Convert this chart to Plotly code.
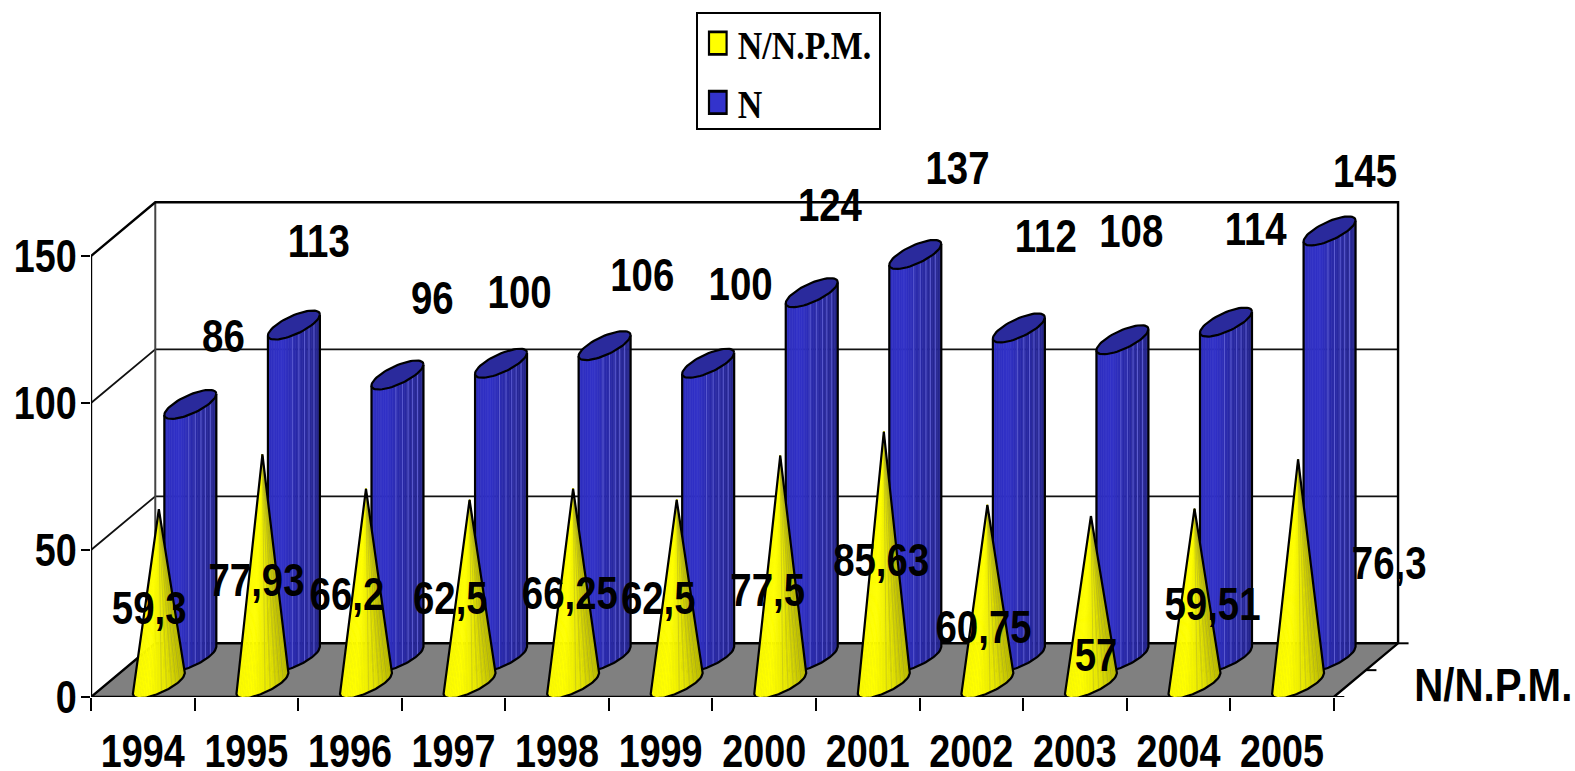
import numpy as np
import plotly.graph_objects as go

# --- data ---
years = ["1994", "1995", "1996", "1997", "1998", "1999", "2000", "2001", "2002", "2003", "2004", "2005"]
npm_values = [59.3, 77.93, 66.2, 62.5, 66.25, 62.5, 77.5, 85.63, 60.75, 57, 59.51, 76.3]
n_values = [86, 113, 96, 100, 106, 100, 124, 137, 112, 108, 114, 145]
y_ticks = [0, 50, 100, 150]
series_names = ["N/N.P.M.", "N"]
depth_label = "N/N.P.M."

# label offsets from the tip of each mark, in screen pixels (right, down)
npm_label_dx = [-9.7, -5.9, -19, -19.2, -3.2, -18.4, -12.6, -2.6, -3.8, 5.1, 18, 91.2]
npm_label_dy = [99.4, 126.1, 105.7, 98.8, 104.9, 98.8, 134.9, 128.7, 122.8, 139, 96.1, 104.2]
n_label_dx = [33.1, 24.9, 34.8, 18.6, 37.6, 32.4, 18.2, 42.2, 27, 8.8, 29.7, 35.5]
n_label_dy = [-68, -83.1, -76.7, -71, -70.5, -79, -86.8, -85.7, -91, -107.8, -93.1, -59.2]
LABEL_SHIFT = 4

# --- layout of the pseudo-3D box ---
W, H = 1575, 771
LEFT, BOTTOM_Y = 90.5, 697.0
PX_PER_CAT, PX_PER_VAL = 103.6, 2.94
DX, DY = 64.3 / PX_PER_CAT, 53.7 / PX_PER_VAL
A, S, K = 26 / PX_PER_CAT, 10.5 / PX_PER_VAL, 10 / PX_PER_VAL
CYL_DEPTH, CONE_DEPTH = 0.74, 0.25
N_STRIPS = 30
FONT = "Liberation Sans, Arial"
SERIF = "Liberation Serif, Times New Roman"
n_cats = len(years)


def ramp(stops, f):
    fs = [s[0] for s in stops]
    c = [np.interp(f, fs, [s[1][k] for s in stops]) for k in range(3)]
    return "rgb(%d,%d,%d)" % tuple(int(round(v)) for v in c)


BLUE_STOPS = [(0, (46, 46, 190)), (0.3, (50, 50, 200)), (0.55, (42, 42, 170)), (1, (38, 38, 140))]
YELLOW_STOPS = [(0, (250, 250, 0)), (0.3, (255, 255, 0)), (0.65, (232, 232, 0)), (1, (185, 185, 0))]


def low(u):
    return -K * np.sqrt(np.clip(1 - u * u, 0, 1)) + S * u


def poly_trace(xs, ys, color):
    return go.Scatter(x=xs, y=ys, mode="lines", fill="toself", fillcolor=color,
                      line=dict(color=color, width=0.7), hoverinfo="skip",
                      showlegend=False, cliponaxis=False)


def line_trace(xs, ys, color="black", width=2.2):
    return go.Scatter(x=xs, y=ys, mode="lines", line=dict(color=color, width=width),
                      hoverinfo="skip", showlegend=False, cliponaxis=False)


fig = go.Figure()

# floor
fig.add_trace(poly_trace([0, n_cats, n_cats + DX, DX, 0], [0, 0, DY, DY, 0], "#808080"))

# walls and grid
gx, gy = [], []
for v in y_ticks[1:3]:
    gx += [0, DX, n_cats + DX, None]
    gy += [v, v + DY, v + DY, None]
fig.add_trace(line_trace(gx, gy, "#111111", 1.8))
fig.add_trace(line_trace([DX, DX, None], [DY, y_ticks[-1] + DY, None], "#444444", 2))
fx = [0, DX, n_cats + DX, n_cats + DX, n_cats, 0, 0, None, 0, DX, n_cats + DX]
fy = [y_ticks[-1], y_ticks[-1] + DY, y_ticks[-1] + DY, DY, 0, 0, y_ticks[-1], None, 0, DY, DY]
fig.add_trace(line_trace(fx, fy, "black", 2.4))
# depth ticks at the right of the floor
tx, ty = [], []
for f in (0, 0.5, 1):
    tx += [n_cats + f * DX, n_cats + f * DX + 10.5 / PX_PER_CAT, None]
    ty += [f * DY, f * DY, None]
fig.add_trace(line_trace(tx, ty, "black", 2))

edges = np.linspace(-1, 1, N_STRIPS + 1)
arc_u = np.linspace(-1, 1, 41)
t_loop = np.linspace(0, 2 * np.pi, 61)

# cylinders (N)
for s in range(N_STRIPS):
    u0, u1 = edges[s], edges[s + 1]
    xs, ys = [], []
    for i, v in enumerate(n_values):
        cx = i + 0.5 + CYL_DEPTH * DX
        b = CYL_DEPTH * DY
        xs += [cx + A * u0, cx + A * u1, cx + A * u1, cx + A * u0, cx + A * u0, None]
        ys += [b + v + low(u0), b + v + low(u1), b + low(u1), b + low(u0), b + v + low(u0), None]
    fig.add_trace(poly_trace(xs, ys, ramp(BLUE_STOPS, (s + 0.5) / N_STRIPS)))

sx, sy = [], []
for i, v in enumerate(n_values):
    cx = i + 0.5 + CYL_DEPTH * DX
    b = CYL_DEPTH * DY
    for u in (-0.06, 0.19, 0.41, 0.58, 0.77):
        sx += [cx + A * u, cx + A * u, None]
        sy += [b + v + low(u), b + low(u), None]
fig.add_trace(line_trace(sx, sy, "#5c5cd0", 1))

ox, oy, ex, ey = [], [], [], []
for i, v in enumerate(n_values):
    cx = i + 0.5 + CYL_DEPTH * DX
    b = CYL_DEPTH * DY
    ox += [cx - A] + list(cx + A * arc_u) + [cx + A, None]
    oy += [b + v + low(-1.0)] + list(b + low(arc_u)) + [b + v + low(1.0), None]
    ex += list(cx + A * np.cos(t_loop)) + [None]
    ey += list(b + v + S * np.cos(t_loop) + K * np.sin(t_loop)) + [None]
fig.add_trace(line_trace(ox, oy))
fig.add_trace(go.Scatter(x=ex, y=ey, mode="lines", fill="toself", fillcolor="#2a2a9c",
                         line=dict(color="black", width=2.2), hoverinfo="skip",
                         showlegend=False, cliponaxis=False))

# cones (N/N.P.M.)
for s in range(N_STRIPS):
    u0, u1 = edges[s], edges[s + 1]
    xs, ys = [], []
    for i, v in enumerate(npm_values):
        cx = i + 0.5 + CONE_DEPTH * DX
        b = CONE_DEPTH * DY
        xs += [cx, cx + A * u1, cx + A * u0, cx, None]
        ys += [b + v, b + low(u1), b + low(u0), b + v, None]
    fig.add_trace(poly_trace(xs, ys, ramp(YELLOW_STOPS, (s + 0.5) / N_STRIPS)))

sx, sy = [], []
for i, v in enumerate(npm_values):
    cx = i + 0.5 + CONE_DEPTH * DX
    b = CONE_DEPTH * DY
    for u in (0.1, 0.3, 0.5, 0.65, 0.8):
        sx += [cx, cx + A * u, None]
        sy += [b + v, b + low(u), None]
fig.add_trace(line_trace(sx, sy, "rgba(150,150,60,0.45)", 0.8))

ox, oy = [], []
for i, v in enumerate(npm_values):
    cx = i + 0.5 + CONE_DEPTH * DX
    b = CONE_DEPTH * DY
    ox += [cx] + list(cx + A * arc_u) + [cx, None]
    oy += [b + v] + list(b + low(arc_u)) + [b + v, None]
fig.add_trace(line_trace(ox, oy))


def label_trace(values, depth, dx, dy):
    return go.Scatter(
        x=[i + 0.5 + depth * DX + dx[i] / PX_PER_CAT for i in range(n_cats)],
        y=[depth * DY + v - (dy[i] + LABEL_SHIFT) / PX_PER_VAL for i, v in enumerate(values)],
        mode="text", text=[str(v).replace(".", ",") for v in values],
        textposition="middle center",
        textfont=dict(family=FONT, size=46, color="black", weight=700),
        hoverinfo="skip", showlegend=False, cliponaxis=False)


fig.add_trace(label_trace(n_values, CYL_DEPTH, n_label_dx, n_label_dy))
fig.add_trace(label_trace(npm_values, CONE_DEPTH, npm_label_dx, npm_label_dy))

# legend entries
for k, (name, col) in enumerate(zip(series_names, ["#ffff00", "#3333cc"])):
    fig.add_trace(go.Scatter(x=[None], y=[None], mode="markers", name=name, legendgroup=name,
                             marker=dict(symbol="square", size=16, color=col,
                                         line=dict(color="black", width=2))))

fig.add_annotation(x=n_cats + DX + 95.5 / PX_PER_CAT, y=DY * 0.22, xref="x", yref="y", text=depth_label,
                   showarrow=False, xanchor="center", yanchor="middle",
                   font=dict(family=FONT, size=46, color="black", weight=700))

fig.update_layout(
    width=W, height=H, paper_bgcolor="white", plot_bgcolor="white",
    margin=dict(l=LEFT, r=0, t=0, b=H - BOTTOM_Y, pad=0, autoexpand=False),
    legend=dict(x=(695.5 - LEFT) / (W - LEFT), y=1 - 12 / BOTTOM_Y, xanchor="left", yanchor="top",
                bgcolor="white", bordercolor="black", borderwidth=2,
                font=dict(family=SERIF, size=41, color="black", weight=700),
                traceorder="grouped", tracegroupgap=3, itemclick=False, itemdoubleclick=False,
                entrywidth=113, entrywidthmode="pixels"),
    xaxis=dict(range=[0, (W - LEFT) / PX_PER_CAT], showgrid=False, zeroline=False, showline=False,
               tickmode="array", tickvals=[i + 0.5 for i in range(n_cats)], ticktext=years,
               tickangle=0,
               ticks="outside", ticklen=14, tickcolor="rgba(0,0,0,0)",
               tickfont=dict(family=FONT, size=46, color="black", weight=700),
               minor=dict(tickmode="array", tickvals=list(range(n_cats + 1)), ticks="outside",
                          ticklen=13, tickwidth=2, tickcolor="black")),
    yaxis=dict(range=[0, BOTTOM_Y / PX_PER_VAL], showgrid=False, zeroline=False, showline=False,
               tickmode="array", tickvals=y_ticks, ticks="outside", ticklen=9, tickwidth=2,
               ticklabelstandoff=-5, tickangle=0,
               tickcolor="black", tickfont=dict(family=FONT, size=46, color="black", weight=700)),
)

# The reference's lettering is horizontally condensed; no condensed face is installed,
# so the real text elements are squeezed once Plotly has drawn them.
POST = """
document.body.style.margin='0';document.body.style.overflow='hidden';
function squeeze(){
  var rules=[['.xtick text, .ytick text',0.82],['.textpoint text',0.835],['.annotation-text',0.875],['.legendtext',0.827]];
  rules.forEach(function(r){
    document.querySelectorAll(r[0]).forEach(function(el){
      if(el.dataset.sq)return;
      var w=el.getComputedTextLength(); if(!w)return;
      el.dataset.sq='1';
      el.setAttribute('lengthAdjust','spacingAndGlyphs');
      el.setAttribute('textLength',w*r[1]);
    });
  });
  document.querySelectorAll('.legendpoints path').forEach(function(el){
    if(el.dataset.sq)return; el.dataset.sq='1';
    el.setAttribute('transform',(el.getAttribute('transform')||'')+' scale(1.1,1.4)');
  });
  document.querySelectorAll('.legend rect.bg').forEach(function(el){ el.setAttribute('height',116); el.setAttribute('width',183); });
  document.querySelectorAll('.legend .scrollbox').forEach(function(el){ el.setAttribute('transform','translate(0,-4)'); });
}
squeeze();setTimeout(squeeze,50);setTimeout(squeeze,300);
"""
fig.write_html("out.html", config=dict(displayModeBar=False), post_script=POST)
